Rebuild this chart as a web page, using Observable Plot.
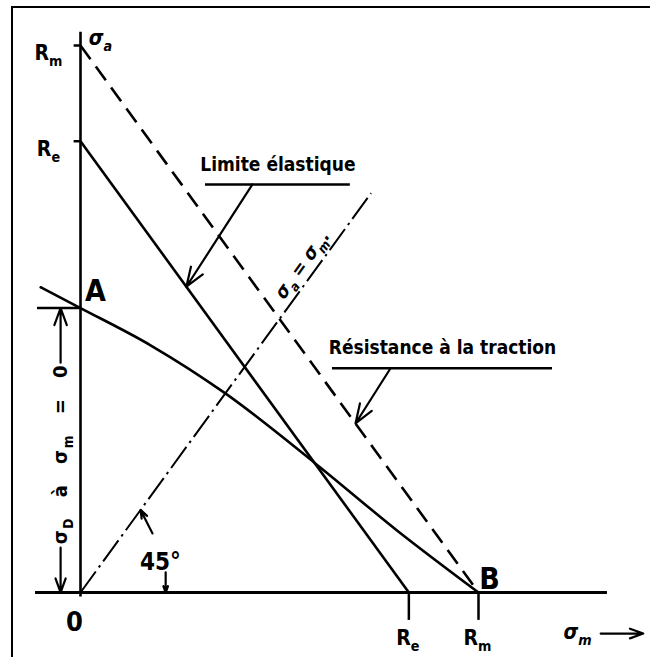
<!DOCTYPE html>
<html>
<head>
<meta charset="utf-8">
<script src="https://cdn.jsdelivr.net/npm/d3@7"></script>
<script src="https://cdn.jsdelivr.net/npm/@observablehq/plot@0.6"></script>
<style>
  html, body { margin: 0; padding: 0; background: #fff; overflow: hidden; }
  #chart { position: relative; width: 650px; height: 657px; overflow: hidden; }
  #chart svg { position: absolute; left: 0; top: 0; }
  #frame { position: absolute; left: 11px; top: 6px; width: 700px; height: 700px;
           border-left: 2px solid #000; border-top: 2px solid #000; pointer-events: none; }
</style>
</head>
<body>
<div id="chart"><div id="frame"></div></div>
<script>
// Haigh diagram: alternating stress σa versus mean stress σm, stresses scaled so that Rm = 100.
const Rm = 100;
const Re = 82.5;
const sigmaD = 52;

// Fatigue limit curve, read as (σm, σa) pairs
const fatigueSm = [-10, 0, 17.6, 36.4, 59, 79.6, 100];
const fatigueSa = [55.8, 52, 45.2, 36.4, 23.6, 11.3, 0];

// Axis ticks and their labels ("_x" marks a subscript)
const yTicks = [Rm, Re];
const yTickLabels = ["R_m", "R_e"];
const xTicks = [Re, Rm];
const xTickLabels = ["R_e", "R_m"];
const xAxisExtent = [-11.3, 132.4];
const yAxisExtent = [-0.8, 102.4];
const bisectorEnd = 73;

// Callouts: label, underline span, leader start and the point it targets
const calloutLabels = ["Limite élastique", "Résistance à la traction"];
const calloutUnderX1 = [31.4, 63.3];
const calloutUnderX2 = [67.8, 118.6];
const calloutUnderY = [74.6, 41];
const calloutFromX = [43.2, 77.9];
const calloutToX = [26.6, 69.1];

// Text strings
const vertLabel = "σ_D à σ_m = 0";
const bisectorLabel = "σ_a = σ_m.";
const angleLabel = "45°";
const yAxisTitle = "σ_a";
const xAxisTitle = "σ_m";

const FONT = '"Liberation Sans Narrow", "DejaVu Sans Condensed", "Liberation Sans", sans-serif';

const callouts = calloutLabels.map((label, i) => ({
  label,
  ux1: calloutUnderX1[i], ux2: calloutUnderX2[i], uy: calloutUnderY[i],
  fx: calloutFromX[i], tx: calloutToX[i],
  // leader ends on the elastic-limit line or on the tensile-strength line
  ty: i === 0 ? Re - calloutToX[i] : Rm - calloutToX[i]
}));

const fatigue = fatigueSm.map((x, i) => ({x, y: fatigueSa[i]}));

const arrows = [
  // dimension arrows for σD along the left of the σa axis
  {x1: -5, y1: 42, x2: -5, y2: sigmaD},
  {x1: -5, y1: 8.2, x2: -5, y2: 0},
  // 45° angle indicators
  {x1: 21.4, y1: 3.7, x2: 21.4, y2: 0},
  {x1: 18.1, y1: 10.8, x2: 15.1, y2: 15.1},
  // σm direction arrow
  {x1: 130.7, y1: -7.5, x2: 141.4, y2: -7.5}
];

const leaders = callouts.map(c => ({x1: c.fx, y1: c.uy, x2: c.tx, y2: c.ty}));

const chart = Plot.plot({
  width: 650,
  height: 657,
  margin: 0,
  x: {domain: [0, Rm], range: [80, 478], axis: null},
  y: {domain: [0, Rm], range: [592, 45], axis: null},
  style: {fontFamily: FONT, fontWeight: "bold", background: "white", color: "black"},
  marks: [
    // axes
    Plot.ruleY([0], {x1: xAxisExtent[0], x2: xAxisExtent[1], strokeWidth: 3.2}),
    Plot.ruleX([0], {y1: yAxisExtent[0], y2: yAxisExtent[1], strokeWidth: 2.6}),
    // ticks
    Plot.ruleY(yTicks, {x1: -1.6, x2: 0, strokeWidth: 2.5}),
    Plot.ruleX(xTicks, {y1: 0, y2: -5.1, strokeWidth: 2.5}),
    // σD reference line at point A
    Plot.ruleY([sigmaD], {x1: -10.8, x2: 0, strokeWidth: 2.5}),
    // tensile strength line (dashed)
    Plot.link([{x1: 0, y1: Rm, x2: Rm, y2: 0}], {x1: "x1", y1: "y1", x2: "x2", y2: "y2",
      strokeWidth: 2.6, strokeDasharray: "17,9"}),
    // elastic limit line
    Plot.link([{x1: 0, y1: Re, x2: Re, y2: 0}], {x1: "x1", y1: "y1", x2: "x2", y2: "y2",
      strokeWidth: 2.6}),
    // σa = σm bisector (dash-dot)
    Plot.link([{x1: 0, y1: 0, x2: bisectorEnd, y2: bisectorEnd}], {x1: "x1", y1: "y1", x2: "x2", y2: "y2",
      strokeWidth: 2, strokeDasharray: "26,5,2.5,5"}),
    // fatigue limit curve
    Plot.line(fatigue, {x: "x", y: "y", curve: "monotone-x", strokeWidth: 2.6}),
    // callout underlines and leaders
    Plot.ruleY(callouts, {y: "uy", x1: "ux1", x2: "ux2", strokeWidth: 2.5}),
    Plot.arrow(leaders, {x1: "x1", y1: "y1", x2: "x2", y2: "y2", strokeWidth: 2.2,
      headLength: 14, headAngle: 40}),
    Plot.arrow(arrows, {x1: "x1", y1: "y1", x2: "x2", y2: "y2", strokeWidth: 2.2,
      headLength: 13, headAngle: 40}),
    // callout labels
    Plot.text(callouts, {x: d => (d.ux1 + d.ux2) / 2, y: "uy", text: "label", dy: -20,
      fontSize: 19, lineAnchor: "middle"}),
    // tick labels
    Plot.text(yTicks, {x: 0, y: d => d, text: (d, i) => yTickLabels[i], dx: -32, dy: 8, fontSize: 21}),
    Plot.text(xTicks, {x: d => d, y: 0, text: (d, i) => xTickLabels[i], dx: -1, dy: 46, fontSize: 21}),
    Plot.text([0], {x: 0, y: 0, text: () => "0", dx: -6, dy: 30, fontSize: 27}),
    // axis titles
    Plot.text([0], {x: 0, y: yAxisExtent[1], text: () => yAxisTitle, dx: 20, dy: 6, fontSize: 21,
      fontStyle: "italic"}),
    Plot.text([0], {x: xAxisExtent[1] - 8, y: 0, text: () => xAxisTitle, dx: 16, dy: 40, fontSize: 21,
      fontStyle: "italic", textAnchor: "end"}),
    // point labels
    Plot.text([{x: 0, y: sigmaD}], {x: "x", y: "y", text: () => "A", dx: 15, dy: -17, fontSize: 30}),
    Plot.text([{x: Rm, y: 0}], {x: "x", y: "y", text: () => "B", dx: 11, dy: -13, fontSize: 30}),
    // angle label
    Plot.text([0], {x: 19.8, y: 0, text: () => angleLabel, dx: 1, dy: -30, fontSize: 24}),
    // bisector label, written along the line
    Plot.text([0], {x: 58.5, y: 58.5, text: () => bisectorLabel, rotate: -54, dx: -11, dy: -8,
      fontSize: 19, fontStyle: "italic"}),
    // vertical label between the σD arrows
    Plot.text([0], {x: -5, y: 25.3, text: () => vertLabel, rotate: -90, fontSize: 20})
  ]
});

document.getElementById("chart").prepend(chart);

// Turn "_x" into a lowered, smaller tspan so subscripts stay real text
const NS = "http://www.w3.org/2000/svg";
chart.querySelectorAll("text, tspan").forEach(el => {
  if (el.children.length) return;
  const s = el.textContent;
  if (!s.includes("_")) return;
  const fs = parseFloat(getComputedStyle(el).fontSize) || 16;
  const shift = fs * 0.28;
  el.textContent = "";
  const parts = s.split(/_(.)/);
  let lowered = false;
  parts.forEach((p, k) => {
    if (!p) return;
    const t = document.createElementNS(NS, "tspan");
    t.textContent = p;
    if (k % 2 === 1) {
      t.setAttribute("font-size", fs * 0.68);
      if (!lowered) { t.setAttribute("dy", shift); lowered = true; }
    } else if (lowered) {
      t.setAttribute("dy", -shift);
      lowered = false;
    }
    el.appendChild(t);
  });
  if (s === vertLabel) {
    el.setAttribute("letter-spacing", "1.5");
    el.setAttribute("word-spacing", "12");
  }
});
</script>
</body>
</html>
